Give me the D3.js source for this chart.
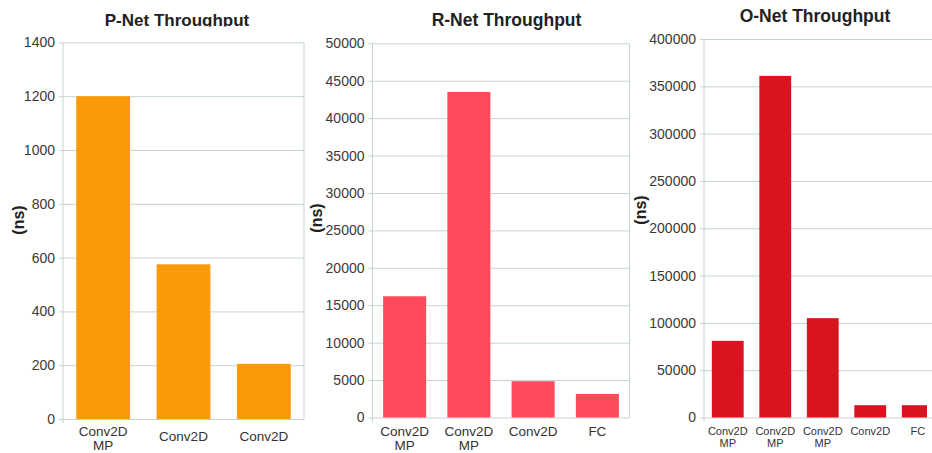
<!DOCTYPE html>
<html>
<head>
<meta charset="utf-8">
<script src="https://cdn.jsdelivr.net/npm/d3@7"></script>
<style>
  html, body { margin: 0; padding: 0; background: #fff; }
  svg { display: block; }
  text { font-family: "Liberation Sans", Arial, sans-serif; fill: #333; }
</style>
</head>
<body>
<svg id="chart" width="932" height="453"></svg>
<script>
// Layer timings for the three cascade networks (nanoseconds)
const pnetCategories = [["Conv2D", "MP"], ["Conv2D"], ["Conv2D"]];
const pnetValues = [1200, 575, 205];
const pnetTicks = [0, 200, 400, 600, 800, 1000, 1200, 1400];

const rnetCategories = [["Conv2D", "MP"], ["Conv2D", "MP"], ["Conv2D"], ["FC"]];
const rnetValues = [16200, 43500, 4850, 3150];
const rnetTicks = [0, 5000, 10000, 15000, 20000, 25000, 30000, 35000, 40000, 45000, 50000];

const onetCategories = [["Conv2D", "MP"], ["Conv2D", "MP"], ["Conv2D", "MP"], ["Conv2D"], ["FC"]];
const onetValues = [81000, 361000, 105000, 13000, 13000];
const onetTicks = [0, 50000, 100000, 150000, 200000, 250000, 300000, 350000, 400000];

const titles = ["P-Net Throughput", "R-Net Throughput", "O-Net Throughput"];
const yLabel = "(ns)";

const svg = d3.select("#chart");
const gridColor = "#c6d3d3";

const panels = [
  { title: titles[0], cats: pnetCategories, values: pnetValues, ticks: pnetTicks,
    color: "#fa9a08", x0: 63, x1: 304, yTop: 42.4, yBot: 419,
    titleX: 177, titleY: 26, titleSize: 17, titleClip: 26.5,
    labX: 18.5, labY: 220, tickSize: 14,
    catSize: 13.5, catY1: 436, catY2: 450, catSingle: 441 },
  { title: titles[1], cats: rnetCategories, values: rnetValues, ticks: rnetTicks,
    color: "#ff4a5c", x0: 372.5, x1: 629.5, yTop: 43.3, yBot: 417.5,
    titleX: 506.5, titleY: 26, titleSize: 17.5,
    labX: 316, labY: 218, tickSize: 14,
    catSize: 13.5, catY1: 436, catY2: 450, catSingle: 436 },
  { title: titles[2], cats: onetCategories, values: onetValues, ticks: onetTicks,
    color: "#d9131f", x0: 704, x1: 941.5, yTop: 39, yBot: 417.5, clipRight: 927,
    titleX: 815, titleY: 22, titleSize: 17.5,
    labX: 640, labY: 210, tickSize: 14,
    catSize: 11, catY1: 435, catY2: 447, catSingle: 435 }
];

const defs = svg.append("defs");

panels.forEach((p, pi) => {
  const g = svg.append("g");
  const idx = d3.range(p.values.length);
  const x = d3.scaleBand().domain(idx).range([p.x0, p.x1])
    .paddingInner(0.33).paddingOuter(0.165);
  const y = d3.scaleLinear().domain([0, d3.max(p.ticks)]).range([p.yBot, p.yTop]);

  // gridlines and value ticks
  const yAxis = d3.axisLeft(y).tickValues(p.ticks).tickSize(-(p.x1 - p.x0)).tickPadding(8)
    .tickFormat(d3.format("d"));
  const ag = g.append("g").attr("transform", `translate(${p.x0},0)`).call(yAxis);
  ag.select(".domain").remove();
  ag.selectAll(".tick line").attr("stroke", gridColor).attr("x1", -4);
  ag.selectAll(".tick text").attr("font-size", p.tickSize).style("fill", "#3a3a3a")
    .attr("font-family", "'Liberation Sans', Arial, sans-serif");

  // frame: left axis and right edge
  g.append("line").attr("x1", p.x0).attr("x2", p.x0).attr("y1", p.yTop).attr("y2", p.yBot + 4)
    .attr("stroke", gridColor);
  g.append("line").attr("x1", p.x1).attr("x2", p.x1).attr("y1", p.yTop).attr("y2", p.yBot)
    .attr("stroke", gridColor);

  // bars
  let barLayer = g.append("g");
  if (p.clipRight) {
    defs.append("clipPath").attr("id", "clip" + pi).append("rect")
      .attr("x", p.x0).attr("y", 0).attr("width", p.clipRight - p.x0).attr("height", 453);
    barLayer.attr("clip-path", `url(#clip${pi})`);
  }
  barLayer.selectAll("rect").data(p.values).join("rect")
    .attr("x", (d, i) => x(i)).attr("width", x.bandwidth())
    .attr("y", d => y(d)).attr("height", d => y(0) - y(d))
    .attr("fill", p.color);

  // category labels
  p.cats.forEach((lines, i) => {
    const cx = x(i) + x.bandwidth() / 2;
    const t = g.append("text").attr("text-anchor", "middle").attr("font-size", p.catSize)
      .style("fill", "#333");
    if (lines.length === 1) {
      t.append("tspan").attr("x", cx).attr("y", p.catSingle).text(lines[0]);
    } else {
      t.append("tspan").attr("x", cx).attr("y", p.catY1).text(lines[0]);
      t.append("tspan").attr("x", cx).attr("y", p.catY2).text(lines[1]);
    }
  });

  // title
  const title = g.append("text").attr("x", p.titleX).attr("y", p.titleY)
    .attr("text-anchor", "middle").attr("font-size", p.titleSize).attr("font-weight", "bold")
    .style("fill", "#222").text(p.title);
  if (p.titleClip) {
    defs.append("clipPath").attr("id", "tclip" + pi).append("rect")
      .attr("x", 0).attr("y", 0).attr("width", 932).attr("height", p.titleClip);
    title.attr("clip-path", `url(#tclip${pi})`);
  }

  // axis label
  g.append("text").attr("transform", `translate(${p.labX},${p.labY}) rotate(-90)`)
    .attr("text-anchor", "middle").attr("dy", "0.35em")
    .attr("font-size", 16).attr("font-weight", "bold").style("fill", "#222").text(yLabel);
});
</script>
</body>
</html>
